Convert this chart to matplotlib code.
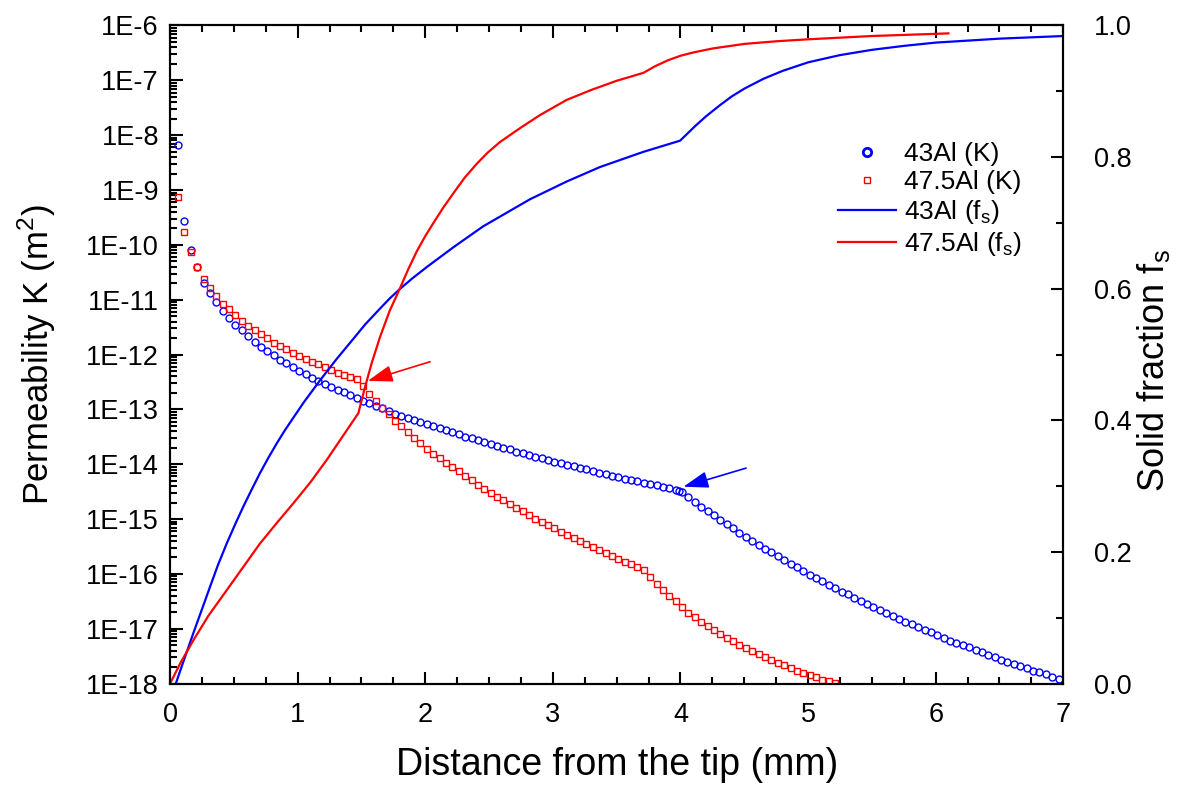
import numpy as np
import matplotlib
matplotlib.use('Agg')
import matplotlib.pyplot as plt
from matplotlib.lines import Line2D
from matplotlib.ticker import FuncFormatter, MultipleLocator, LogLocator, NullFormatter

plt.rcParams['font.family'] = ['Liberation Sans', 'DejaVu Sans']
plt.rcParams['mathtext.fontset'] = 'custom'
plt.rcParams['mathtext.rm'] = 'Liberation Sans'

# permeability samples, every 0.05 mm starting at 0.0625 mm
X0 = 0.0625
STEP = 0.05

# log10 of K (m^2), 43Al
logK_43 = [-8.18, -9.56, -10.09, -10.40, -10.69, -10.88, -11.05, -11.21, -11.34, -11.46,
           -11.56, -11.67, -11.77, -11.86, -11.93, -12.01, -12.09, -12.16, -12.23, -12.30,
           -12.36, -12.43, -12.48, -12.54, -12.59, -12.64, -12.69, -12.74, -12.79, -12.84,
           -12.89, -12.94, -12.98, -13.02, -13.08, -13.12, -13.16, -13.19, -13.23, -13.27,
           -13.31, -13.34, -13.38, -13.41, -13.45, -13.50, -13.53, -13.56, -13.60, -13.63,
           -13.67, -13.70, -13.73, -13.77, -13.80, -13.83, -13.86, -13.89, -13.92, -13.95,
           -13.98, -14.01, -14.04, -14.07, -14.09, -14.12, -14.15, -14.18, -14.21, -14.23,
           -14.26, -14.29, -14.31, -14.34, -14.36, -14.38, -14.41, -14.43, -14.46, -14.51,
           -14.60, -14.69, -14.77, -14.85, -14.93, -15.01, -15.09, -15.17, -15.25, -15.32,
           -15.39, -15.47, -15.54, -15.60, -15.67, -15.74, -15.81, -15.88, -15.94, -16.01,
           -16.07, -16.13, -16.20, -16.26, -16.32, -16.37, -16.43, -16.49, -16.55, -16.60,
           -16.66, -16.71, -16.77, -16.82, -16.87, -16.92, -16.97, -17.02, -17.06, -17.11,
           -17.17, -17.22, -17.26, -17.30, -17.34, -17.39, -17.43, -17.47, -17.51, -17.56,
           -17.60, -17.64, -17.68, -17.72, -17.76, -17.79, -17.83, -17.87, -17.91]
# extra point at the 43Al kink
kink43_x = [3.99]
kink43_logK = [-14.48]

# log10 of K (m^2), 47.5Al
logK_475 = [-9.13, -9.76, -10.13, -10.40, -10.62, -10.78, -10.93, -11.07, -11.17, -11.28,
            -11.38, -11.47, -11.56, -11.62, -11.70, -11.78, -11.84, -11.90, -11.97, -12.03,
            -12.08, -12.13, -12.18, -12.23, -12.28, -12.33, -12.37, -12.41, -12.45, -12.57,
            -12.71, -12.84, -12.97, -13.09, -13.21, -13.31, -13.42, -13.52, -13.62, -13.72,
            -13.81, -13.89, -13.98, -14.05, -14.13, -14.22, -14.29, -14.37, -14.45, -14.52,
            -14.59, -14.66, -14.73, -14.80, -14.86, -14.93, -14.99, -15.05, -15.11, -15.17,
            -15.23, -15.29, -15.35, -15.40, -15.46, -15.51, -15.57, -15.62, -15.67, -15.73,
            -15.78, -15.82, -15.88, -15.93, -16.05, -16.18, -16.30, -16.41, -16.50, -16.61,
            -16.71, -16.78, -16.87, -16.95, -17.03, -17.10, -17.17, -17.23, -17.29, -17.35,
            -17.41, -17.46, -17.52, -17.57, -17.62, -17.66, -17.71, -17.76, -17.81, -17.84,
            -17.88, -17.93, -17.96, -17.99]

# solid fraction curves
fs43_x = [0.045, 0.10, 0.183, 0.25, 0.313, 0.375, 0.444, 0.51, 0.574, 0.64, 0.705, 0.77,
          0.836, 0.90, 0.966, 1.05, 1.176, 1.30, 1.411, 1.53, 1.646, 1.72, 1.803, 1.90,
          2.012, 2.220, 2.455, 2.821, 3.109, 3.370, 3.709, 3.997, 4.114, 4.20, 4.31, 4.40,
          4.50, 4.65, 4.80, 5.0, 5.25, 5.5, 5.75, 6.0, 6.5, 7.0]
fs43 = [0.0, 0.031, 0.077, 0.113, 0.147, 0.180, 0.213, 0.242, 0.269, 0.295, 0.320, 0.343,
        0.365, 0.385, 0.404, 0.428, 0.461, 0.492, 0.518, 0.546, 0.570, 0.585, 0.600, 0.616,
        0.633, 0.663, 0.695, 0.736, 0.763, 0.785, 0.808, 0.825, 0.847, 0.862, 0.879, 0.892,
        0.904, 0.919, 0.931, 0.944, 0.955, 0.963, 0.969, 0.974, 0.980, 0.984]

fs475_x = [0.0, 0.08, 0.183, 0.30, 0.444, 0.58, 0.705, 0.84, 0.966, 1.10, 1.228, 1.35,
           1.476, 1.52, 1.58, 1.646, 1.72, 1.80, 1.87, 1.934, 2.0, 2.064, 2.14, 2.220,
           2.31, 2.404, 2.49, 2.586, 2.75, 2.90, 3.109, 3.30, 3.50, 3.709, 3.80, 3.90,
           4.0, 4.10, 4.25, 4.50, 4.75, 5.0, 5.5, 6.1]
fs475 = [0.0, 0.031, 0.066, 0.103, 0.142, 0.179, 0.213, 0.245, 0.274, 0.306, 0.340, 0.375,
         0.411, 0.445, 0.487, 0.527, 0.566, 0.600, 0.631, 0.657, 0.680, 0.700, 0.723, 0.745,
         0.769, 0.790, 0.807, 0.823, 0.845, 0.864, 0.887, 0.902, 0.916, 0.928, 0.938, 0.947,
         0.954, 0.959, 0.965, 0.972, 0.976, 0.979, 0.984, 0.988]

BLUE = '#0000FF'
RED = '#FF0000'

x43 = X0 + STEP * np.arange(len(logK_43))
x475 = X0 + STEP * np.arange(len(logK_475))

fig = plt.figure(figsize=(11.85, 7.89), dpi=100)
ax = fig.add_axes([0.1435, 0.1335, 0.7538, 0.8342])
ax2 = ax.twinx()

ax.plot(x43, 10.0 ** np.array(logK_43), 'o', ls='none', mfc='none', mec=BLUE, ms=5, mew=1)
ax.plot(kink43_x, 10.0 ** np.array(kink43_logK), 'o', ls='none', mfc='none', mec=BLUE, ms=5, mew=1)
ax.plot(x475, 10.0 ** np.array(logK_475), 's', ls='none', mfc='none', mec=RED, ms=4.5, mew=1)

ax2.plot(fs43_x, fs43, color=BLUE, lw=1.6)
ax2.plot(fs475_x, fs475, color=RED, lw=1.6)

ax.set_xlim(0, 7)
ax.set_yscale('log')
ax.set_ylim(1e-18, 1e-6)
ax2.set_ylim(0, 1.0)

ax.xaxis.set_major_locator(MultipleLocator(1))
ax.xaxis.set_minor_locator(MultipleLocator(0.25))
ax.yaxis.set_major_locator(LogLocator(base=10, numticks=20))
ax.yaxis.set_minor_locator(LogLocator(base=10, subs=np.arange(2, 10), numticks=20))
ax.yaxis.set_major_formatter(FuncFormatter(lambda v, p: '1E%d' % round(np.log10(v))))
ax.yaxis.set_minor_formatter(NullFormatter())
ax2.yaxis.set_major_locator(MultipleLocator(0.2))
ax2.yaxis.set_minor_locator(MultipleLocator(0.1))
ax2.yaxis.set_major_formatter(FuncFormatter(lambda v, p: '%.1f' % v))

ax.tick_params(which='both', direction='in', top=True, width=1.5, labelsize=19.5)
ax.tick_params(axis='y', pad=8)
ax.tick_params(axis='x', pad=13)
ax.tick_params(which='major', length=9)
ax.tick_params(which='minor', length=5)
ax2.tick_params(which='both', direction='in', width=1.5, labelsize=19.5, pad=22)
ax2.tick_params(which='major', length=9)
ax2.tick_params(which='minor', length=5)
for a in (ax, ax2):
    for s in a.spines.values():
        s.set_linewidth(1.5)

ax.set_xlabel('Distance from the tip (mm)', fontsize=27, labelpad=14)
ax.set_ylabel('Permeability K (m$^\\mathregular{2}$)', fontsize=25, labelpad=20)
ax2.set_ylabel('Solid fraction f$_\\mathregular{s}$', fontsize=26, labelpad=2)
ax2.yaxis.label.set_y(0.476)

# arrows marking the kinks
ax.annotate('', xy=(1.549, 10 ** -12.48), xytext=(2.038, 10 ** -12.13),
            arrowprops=dict(arrowstyle='-|>,head_length=0.9,head_width=0.3', color=RED,
                            lw=1.2, shrinkA=0, shrinkB=0, mutation_scale=17))
ax.annotate('', xy=(4.023, 10 ** -14.41), xytext=(4.514, 10 ** -14.07),
            arrowprops=dict(arrowstyle='-|>,head_length=0.9,head_width=0.3', color=BLUE,
                            lw=1.2, shrinkA=0, shrinkB=0, mutation_scale=17))

handles = [
    Line2D([], [], marker='o', ls='none', mfc='none', mec=BLUE, ms=6, mew=2),
    Line2D([], [], marker='s', ls='none', mfc='none', mec=RED, ms=4.5, mew=1),
    Line2D([], [], color=BLUE, lw=1.6),
    Line2D([], [], color=RED, lw=1.6),
]
labels = ['43Al (K)', '47.5Al (K)', '43Al (f$_\\mathregular{s}$)', '47.5Al (f$_\\mathregular{s}$)']
fig.legend(handles, labels, loc='upper left', bbox_to_anchor=(838 / 1185, 1 - 142 / 789),
           frameon=False, fontsize=19, handlelength=2.2, handletextpad=0.3,
           labelspacing=0.15, borderpad=0, borderaxespad=0)

fig.savefig('out.png', dpi=100)
